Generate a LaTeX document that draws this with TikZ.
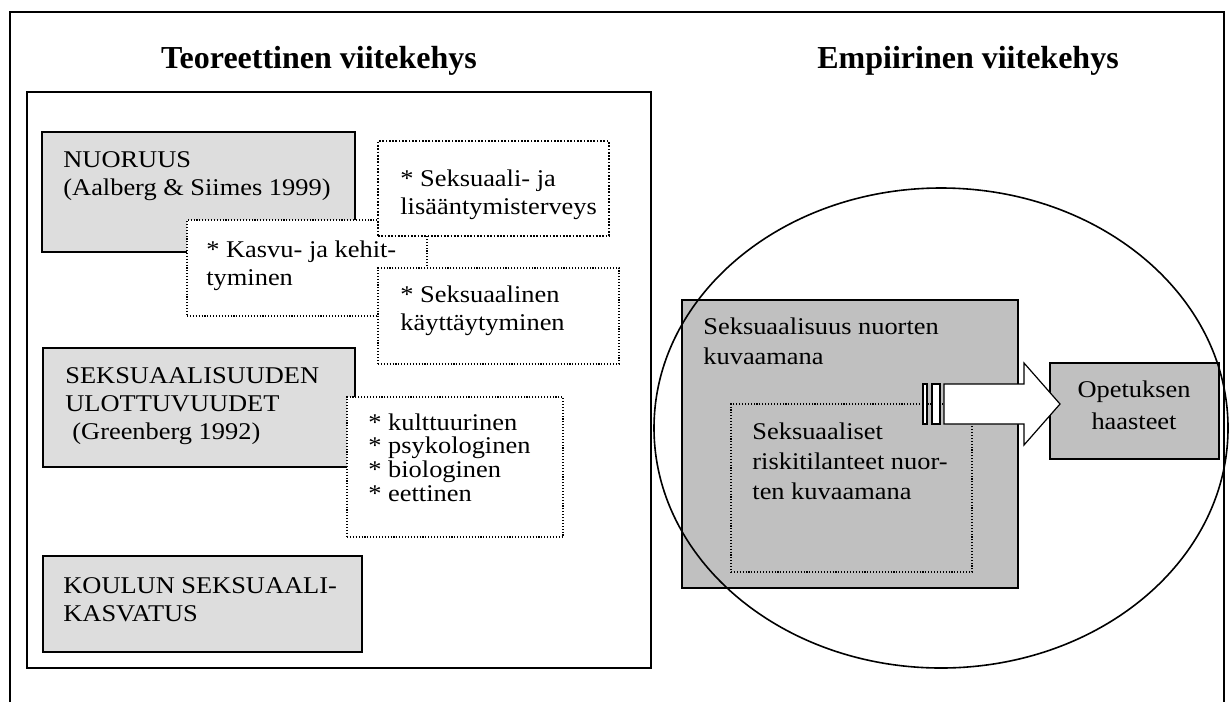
\documentclass[tikz,border=0pt]{standalone}
\usepackage{fontspec}
\setmainfont{Liberation Serif}[FakeStretch=1.1]
\newfontfamily\headfont{Liberation Serif}
\usetikzlibrary{fit,shapes.geometric}

\definecolor{lightgrey}{HTML}{DDDDDD}
\definecolor{midgrey}{HTML}{C0C0C0}

% multi-line text whose reference point is the first baseline
\newcommand\linesL[1]{\begin{tabular}[t]{@{}l@{}}#1\end{tabular}}
\newcommand\linesC[1]{\begin{tabular}[t]{@{}c@{}}#1\end{tabular}}

\begin{document}
\begin{tikzpicture}[x=0.5pt,y=-0.5pt,
  frameline/.style={draw=black,line width=0.9pt},
  areabox/.style={rectangle,draw=black,line width=0.9pt,fill=white,inner sep=0pt},
  topicbox/.style={rectangle,draw=black,line width=0.9pt,fill=lightgrey,inner sep=0pt},
  resultbox/.style={rectangle,draw=black,line width=0.8pt,fill=midgrey,inner sep=0pt},
  notebox/.style={rectangle,draw=black,line width=0.55pt,fill=white,inner sep=0pt,
    dash pattern=on 0.55pt off 0.9pt},
  heavynote/.style={notebox,line width=0.85pt,dash pattern=on 0.85pt off 0.8pt},
  innernote/.style={rectangle,draw=black,line width=0.55pt,inner sep=0pt,
    dash pattern=on 0.55pt off 0.9pt},
  heading/.style={font=\headfont\bfseries\fontsize{16}{19}\selectfont,inner sep=0pt,anchor=base},
  bodytext/.style={font=\fontsize{12}{14}\selectfont,inner sep=0pt,anchor=base west},
  listtext/.style={font=\fontsize{12}{11.9}\selectfont,inner sep=0pt,anchor=base west},
  widetext/.style={font=\fontsize{12}{15.2}\selectfont,inner sep=0pt,anchor=base west},
  bigarrow/.style={draw=black,line width=0.6pt,fill=white,line join=miter},
]
\useasboundingbox (0,0) rectangle (1229,702);

% outer frame, open at the bottom
\coordinate (fbl) at (10,702);
\coordinate (ftl) at (10,12);
\coordinate (ftr) at (1224,12);
\coordinate (fbr) at (1224,702);
\draw[frameline] (fbl) -- (ftl) -- (ftr) -- (fbr);

% headings
\node[heading] (theoryhead) at (319,68) {Teoreettinen viitekehys};
\node[heading] (empirichead) at (968,68) {Empiirinen viitekehys};

% theoretical framework
\node[areabox,fit={(27,92) (651,668)}] (theory) {};

\node[topicbox,fit={(42,132) (355,252)}] (youth) {};
\node[bodytext] (youthtxt) at (63,167) {\linesL{NUORUUS\\(Aalberg \& Siimes 1999)}};

\node[notebox,fit={(187,220) (427,316)}] (growth) {};
\node[bodytext] (growthtxt) at (206,257) {\linesL{* Kasvu- ja kehit-\\tyminen}};

\node[heavynote,fit={(378,141) (609,236)}] (health) {};
\node[bodytext] (healthtxt) at (400,186) {\linesL{* Seksuaali- ja\\lisääntymisterveys}};

\node[notebox,fit={(378,268) (619,364)}] (behaviour) {};
\node[bodytext] (behaviourtxt) at (400,302) {\linesL{* Seksuaalinen\\käyttäytyminen}};

\node[topicbox,fit={(43,348) (355,467)}] (dimensions) {};
\node[bodytext] (dimensionstxt) at (65,383) {\linesL{SEKSUAALISUUDEN\\ULOTTUVUUDET\\\hspace{3.5pt}(Greenberg 1992)}};

\node[notebox,fit={(347,397) (563,537)}] (aspects) {};
\node[listtext] (aspectstxt) at (368,430) {\linesL{* kulttuurinen\\{}* psykologinen\\{}* biologinen\\{}* eettinen}};

\node[topicbox,fit={(43,556) (362,652)}] (school) {};
\node[bodytext] (schooltxt) at (63,593) {\linesL{KOULUN SEKSUAALI-\\KASVATUS}};

% empirical framework
\node[resultbox,fit={(682,300) (1018,588)}] (sexuality) {};
\node[widetext] (sexualitytxt) at (703,334) {\linesL{Seksuaalisuus nuorten\\kuvaamana}};

\node[innernote,fit={(731,404) (972,572)}] (risks) {};
\node[widetext] (riskstxt) at (752,439) {\linesL{Seksuaaliset\\riskitilanteet nuor-\\ten kuvaamana}};

\node[resultbox,fit={(1050,363) (1219,459)}] (challenges) {};
\node[font=\fontsize{12}{16}\selectfont,inner sep=0pt,anchor=base] (challengestxt) at (1134,397) {\linesC{Opetuksen\\haasteet}};

% striped block arrow from the findings to the teaching challenges
\draw[bigarrow] (923,384) rectangle (927,424);
\draw[bigarrow] (932,384) rectangle (940,424);
\draw[bigarrow] (944,384) -- (1024,384) -- (1024,363) -- (1060,404)
  -- (1024,445) -- (1024,424) -- (944,424) -- cycle;

% empirical field
\node[ellipse,draw=black,line width=0.8pt,inner sep=0pt,
  minimum width=287pt,minimum height=240pt] (field) at (941,428) {};

\end{tikzpicture}
\end{document}
